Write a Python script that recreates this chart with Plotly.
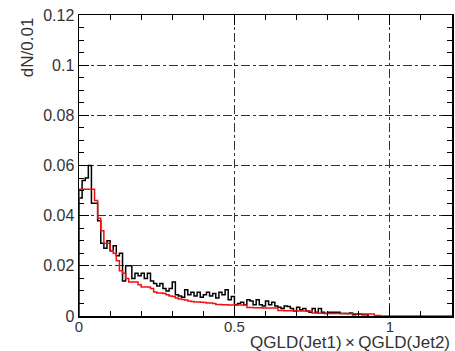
import plotly.graph_objects as go

bin_width = 0.01
black_vals = [0.047, 0.054, 0.055, 0.060, 0.045, 0.045, 0.038, 0.029, 0.027, 0.030,
              0.026, 0.028, 0.024, 0.025, 0.014, 0.020, 0.020, 0.015, 0.017, 0.016,
              0.017, 0.015, 0.017, 0.014, 0.013, 0.012, 0.013, 0.011, 0.010, 0.011,
              0.0136, 0.0085, 0.008, 0.0075, 0.0105, 0.0085, 0.0095, 0.008, 0.0095, 0.0075,
              0.0085, 0.0095, 0.008, 0.009, 0.0072, 0.0095, 0.0085, 0.0105, 0.0065, 0.0078,
              0.0045, 0.005, 0.0055, 0.0045, 0.0065, 0.006, 0.0045, 0.0065, 0.0045, 0.004,
              0.006, 0.0045, 0.0055, 0.004, 0.0035, 0.003, 0.004, 0.0038, 0.003, 0.002,
              0.0035, 0.0025, 0.003, 0.002, 0.0015, 0.003, 0.0015, 0.003, 0.0015, 0.001,
              0.0015, 0.0015, 0.0015, 0.0015, 0.001, 0.001, 0.001, 0.0012, 0.0005, 0.0008,
              0.0008, 0.0005, 0.0005]
red_vals = [0.0505, 0.0505, 0.0505, 0.0505, 0.0505, 0.046, 0.039, 0.034, 0.029, 0.029,
            0.026, 0.025, 0.022, 0.018, 0.017, 0.015, 0.0136, 0.0136, 0.0136, 0.0125,
            0.0116, 0.0116, 0.0116, 0.011, 0.0096, 0.0092, 0.0092, 0.009, 0.0085, 0.008,
            0.0078, 0.0072, 0.0068, 0.0066, 0.0064, 0.006, 0.0058, 0.0056, 0.0056, 0.0055,
            0.0054, 0.0052, 0.0052, 0.005, 0.0046, 0.0046, 0.0045, 0.0045, 0.0044, 0.0044,
            0.0044, 0.0044, 0.0044, 0.0044, 0.0034, 0.0034, 0.0033, 0.0033, 0.0033, 0.0032,
            0.0032, 0.0032, 0.0032, 0.0032, 0.0022, 0.0022, 0.0021, 0.0021, 0.0021, 0.002,
            0.002, 0.002, 0.002, 0.002, 0.002, 0.0012, 0.0012, 0.0011, 0.0011, 0.0011,
            0.001, 0.001, 0.001, 0.001, 0.001, 0.001, 0.0009, 0.0009, 0.0009, 0.0009,
            0.0008, 0.0008, 0.0008, 0.0008, 0.0008, 0.0002, 0.0002, 0.0, 0.0, 0.0,
            0.0, 0.0, 0.0, 0.0, 0.0, 0.0, 0.0, 0.0, 0.0, 0.0,
            0.0, 0.0, 0.0, 0.0, 0.0, 0.0, 0.0, 0.0, 0.0, 0.0]
x_ticks = [0, 0.5, 1]
x_tick_labels = ["0", "0.5", "1"]
y_ticks = [0, 0.02, 0.04, 0.06, 0.08, 0.1, 0.12]
y_tick_labels = ["0", "0.02", "0.04", "0.06", "0.08", "0.1", "0.12"]
x_title = "QGLD(Jet1)\u2009\u00d7\u2009QGLD(Jet2)"
y_title = "dN/0.01"

FONT = "Liberation Sans, Arial, sans-serif"
TXT = "#333333"


def step_xy(vals):
    xs = [i * bin_width for i in range(len(vals) + 1)]
    ys = list(vals) + [vals[-1]]
    return [0] + xs, [0] + ys


fig = go.Figure()
bx, by = step_xy(black_vals)
bx.append(len(black_vals) * bin_width)
by.append(0)
fig.add_trace(go.Scatter(x=bx, y=by, mode="lines", line=dict(shape="hv", color="black", width=1.5),
                         showlegend=False, hoverinfo="skip"))
rx, ry = step_xy(red_vals)
fig.add_trace(go.Scatter(x=rx, y=ry, mode="lines", line=dict(shape="hv", color="#ee1111", width=1.5),
                         showlegend=False, hoverinfo="skip"))
# invisible trace to anchor the mirrored tick axes
fig.add_trace(go.Scatter(x=[0], y=[0], xaxis="x2", yaxis="y2", mode="markers",
                         marker=dict(opacity=0), showlegend=False, hoverinfo="skip"))

tick_common = dict(ticks="inside", ticklen=10, tickwidth=1, tickcolor="black", automargin=False,
                   zeroline=False)

fig.update_layout(
    xaxis=dict(range=[0, 1.2], tickvals=x_ticks, ticktext=x_tick_labels,
               showline=True, linecolor="black", linewidth=1.5, mirror=True,
               showgrid=True, gridcolor="#333333", gridwidth=1, griddash="dashdot",
               ticklabeloverflow="allow", ticklabelstandoff=-4,
               minor=dict(dtick=0.1, tick0=0, ticks="inside", ticklen=5, tickcolor="black", showgrid=False),
               tickfont=dict(family=FONT, size=15, color=TXT), **tick_common),
    yaxis=dict(range=[0, 0.12], tickvals=y_ticks, ticktext=y_tick_labels,
               showline=True, linecolor="black", linewidth=1.5, mirror=True,
               showgrid=True, gridcolor="#333333", gridwidth=1, griddash="dashdot",
               ticklabeloverflow="allow",
               minor=dict(dtick=0.005, tick0=0, ticks="inside", ticklen=5, tickcolor="black", showgrid=False),
               tickfont=dict(family=FONT, size=16, color=TXT), **tick_common),
    xaxis2=dict(range=[0, 1.2], overlaying="x", side="top", anchor="y2", tickvals=x_ticks,
                showticklabels=False, showgrid=False, showline=False,
                minor=dict(dtick=0.1, tick0=0, ticks="inside", ticklen=5, tickcolor="black", showgrid=False),
                **tick_common),
    yaxis2=dict(range=[0, 0.12], overlaying="y", side="right", anchor="x2", tickvals=y_ticks,
                showticklabels=False, showgrid=False, showline=False,
                minor=dict(dtick=0.005, tick0=0, ticks="inside", ticklen=5, tickcolor="black", showgrid=False),
                **tick_common),
)

fig.add_annotation(text=x_title, xref="paper", yref="paper", x=1.0, y=-0.0864,
                   xanchor="right", yanchor="middle", showarrow=False,
                   font=dict(family=FONT, size=17, color=TXT))
fig.add_annotation(text=y_title, xref="paper", yref="paper", x=-0.139, y=1.0,
                   xanchor="center", yanchor="top", textangle=-90, showarrow=False,
                   font=dict(family=FONT, size=17, color=TXT))

fig.update_layout(width=455, height=351, margin=dict(l=79, r=3, t=15, b=35),
                  plot_bgcolor="white", paper_bgcolor="white")
fig.write_html("out.html", config={"displayModeBar": False, "staticPlot": True},
               post_script="document.body.style.margin='0';document.body.style.overflow='hidden';")
